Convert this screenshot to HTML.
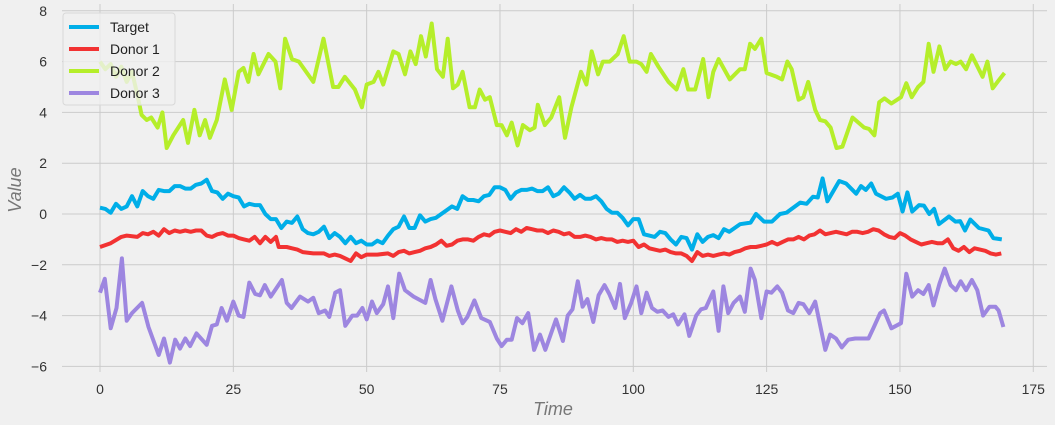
<!DOCTYPE html>
<html><head><meta charset="utf-8"><style>
body{margin:0;background:#f0f0f0;}
svg{display:block;font-family:"Liberation Sans",sans-serif;}
</style></head><body>
<svg id="s" width="1055" height="425" xmlns="http://www.w3.org/2000/svg">
<rect width="1055" height="425" fill="#f0f0f0"/>
<g id="grid" stroke="#cbcbcb" stroke-width="1"></g>
<g id="lbl" font-size="14" fill="#333"></g>
<text x="553" y="415" font-size="18" font-style="italic" fill="#777" text-anchor="middle">Time</text>
<text transform="translate(21,190) rotate(-90)" font-size="18" font-style="italic" fill="#777" text-anchor="middle">Value</text>
<g id="lines" fill="none" stroke-width="4" stroke-linejoin="round"></g>
<g>
<rect x="63" y="13" width="112" height="92" rx="3" fill="#f0f0f0" fill-opacity="0.8" stroke="#d8d8d8"/>
<line x1="69" y1="27" x2="99" y2="27" stroke="#00aee8" stroke-width="4"/>
<line x1="69" y1="49" x2="99" y2="49" stroke="#f23232" stroke-width="4"/>
<line x1="69" y1="71" x2="99" y2="71" stroke="#b5ee2a" stroke-width="4"/>
<line x1="69" y1="93" x2="99" y2="93" stroke="#9d86e0" stroke-width="4"/>
<g font-size="14" fill="#222"><text x="110" y="32">Target</text><text x="110" y="54">Donor 1</text><text x="110" y="76">Donor 2</text><text x="110" y="98">Donor 3</text></g>
</g>
</svg>
<script>
var X=function(u){return 100+u*5.333},Y=function(v){return 214-v*25.4};
var g=document.getElementById('grid'),l=document.getElementById('lbl'),NS="http://www.w3.org/2000/svg";
function el(p,t,a,txt){var e=document.createElementNS(NS,t);for(var k in a)e.setAttribute(k,a[k]);if(txt!=null)e.textContent=txt;p.appendChild(e);}
for(var v=-6;v<=8;v+=2){el(g,'line',{x1:62,x2:1047,y1:Y(v),y2:Y(v)});el(l,'text',{x:47,y:Y(v)+5,'text-anchor':'end'},v<0?'\u2212'+(-v):v);}
for(var u=0;u<=175;u+=25){el(g,'line',{x1:X(u),x2:X(u),y1:4,y2:372});el(l,'text',{x:X(u),y:394,'text-anchor':'middle'},u);}
var T=[0,.25,1,.2,2,.05,3,.4,4,.2,5,.3,6,.7,7,.3,8,.9,9,.7,10,.6,11,.95,12,.9,13,.9,14,1.1,15,1.1,16,1,17,1,18,1.15,19,1.2,20,1.35,21,.9,22,.85,23,.6,24,.8,25,.7,26,.65,27,.3,28,.4,29,.35,30,.35,31,0,32,-.2,33,-.2,34,-.55,35,-.3,36,-.35,37,-.1,38,-.6,39,-.75,40,-.8,41,-.7,42,-.5,43,-.95,44,-.75,45,-.9,46,-1.15,47,-.9,48,-1.15,49,-1.05,50,-1.2,51,-1.2,52,-1.05,53,-1.15,54,-.85,55,-.6,56,-.5,57,-.1,58,-.55,59,-.55,60,-.05,61,-.3,62,-.2,63,-.15,64,0,65,.15,66,.3,67,.2,68,.7,69,.55,70,.55,71,.5,72,.7,73,.75,74,1.05,75,1.05,76,.95,77,.6,78,.85,79,.95,80,.95,81,1,82,.9,83,.9,84,1.05,85,.7,86,.8,87,1.05,88,.85,89,.6,90,.75,91,.6,92,.6,93,.7,94,.5,95,.2,96,.05,97,.05,98,-.15,99,-.45,100,-.2,101,-.2,102,-.8,103,-.85,104,-.9,105,-.7,106,-.75,107,-1,108,-1.2,109,-.9,110,-.95,111,-1.4,112,-.8,113,-1.1,114,-.9,115,-.83,116,-.95,117,-.6,118,-.7,120,-.4,122,-.34,123,0,124.5,-.3,126,-.3,127.5,0,128.7,.05,131.3,.45,132.5,.4,133.7,.68,134.6,.65,135.5,1.4,136.4,.5,138.6,1.3,139.9,1.2,141.8,.8,142.7,1.1,143.6,.95,144.6,1.2,145.5,.8,147.4,.6,148.6,.65,149.6,.8,150.5,.1,151.4,.85,152.3,.1,153.6,.35,154.5,.33,155.5,0,156.4,.2,157.3,-.4,159.2,-.1,160.4,-.3,161.3,-.28,162.2,-.65,163.2,-.22,164.8,-.55,166.6,-.65,167.5,-.95,169.1,-1];
var R=[0,-1.3,2,-1.15,4,-.9,5,-.85,7,-.9,8,-.75,9,-.8,10,-.7,11,-.85,12,-.6,13,-.75,14,-.65,15,-.7,16,-.65,17,-.7,18,-.65,19,-.65,20,-.85,21,-.9,22,-.8,23,-.75,24,-.85,25,-.85,26,-.95,27,-1,28,-1.05,29,-.9,30,-1.15,31,-.9,32,-1.1,33,-.9,33.5,-1.3,35,-1.3,36,-1.35,37,-1.4,38,-1.5,40,-1.55,42,-1.55,43,-1.65,44,-1.6,45,-1.65,46,-1.75,47,-1.85,48,-1.55,49,-1.7,50,-1.6,52,-1.6,54,-1.55,55,-1.65,56,-1.5,57,-1.45,58,-1.55,59,-1.5,60,-1.45,61,-1.35,62,-1.3,63,-1.2,64,-1.05,65,-1.25,66,-1.2,67,-1.05,68,-1,69,-1,70,-1.05,71,-.9,72,-.8,73,-.85,74,-.7,75,-.65,76,-.7,77,-.75,78,-.6,79,-.7,80,-.55,81,-.6,82,-.65,83,-.65,84,-.75,85,-.65,86,-.7,87,-.8,88,-.75,89,-.9,90,-.9,91,-.85,92,-.9,93,-1,94,-.95,95,-1,96,-1,97,-1.1,98,-1.05,99,-1.1,100,-1.05,101,-1.3,102,-1.2,103,-1.35,104,-1.4,105,-1.45,106,-1.4,107,-1.5,108,-1.55,109,-1.55,110,-1.65,111,-1.85,112,-1.5,113,-1.65,114,-1.6,115,-1.65,116,-1.6,117,-1.55,118,-1.6,119,-1.5,120,-1.45,121,-1.35,122,-1.3,123,-1.3,124,-1.25,125,-1.2,126,-1.1,127,-1.2,128,-1.1,129,-1,130,-1,131,-.9,132,-1,133,-.85,134,-.8,135,-.65,136,-.8,137,-.75,138,-.7,139,-.75,140,-.8,141,-.7,142,-.7,143,-.75,144,-.7,145,-.6,146,-.65,147,-.8,148,-.9,149,-.95,150,-.75,151,-.85,152,-1,153,-1.1,154,-1.2,155,-1.15,156,-1.1,157,-1.15,158,-1.15,159,-1,160,-1.35,161,-1.45,162,-1.3,163,-1.5,164,-1.35,165,-1.4,166,-1.45,167,-1.55,168,-1.6,169,-1.55];
var G=[0,6,1,5.7,2,5.9,3,5.4,4,5.8,5,5.2,6,5.6,7,4.7,7.8,3.9,8.75,3.7,9.6,3.8,10.8,3.4,11.7,4,12.5,2.6,13.75,3.1,15.6,3.7,16.5,2.8,17.7,4.1,18.7,3.1,19.7,3.7,20.6,3,21.9,3.7,23.4,5.3,24.7,4.1,26,5.6,26.9,5.75,27.8,5.2,28.8,6.3,29.7,5.5,31.6,6.3,32.9,6,33.8,4.95,34.7,6.9,36,6.1,37.3,6,40,5.2,41.9,6.9,43.7,5,44.7,5,45.9,5.4,47.8,4.9,49.1,4.2,50,5.1,51.3,5.2,52.2,5.6,53.1,5.1,55,6.4,56,6.3,57.2,5.5,58.2,6.4,59.2,5.9,60.2,7,61.1,6.2,62.2,7.5,63.2,5.7,64.3,5.4,65.2,6.9,66.2,4.95,67.1,5.1,68,5.6,69.3,4.2,70.3,4.2,71.2,4.9,72.2,4.5,73.1,4.6,74.4,3.5,75.3,3.5,76.3,3.1,77.2,3.6,78.3,2.7,79.3,3.5,80.6,3.3,81.5,3.4,82.1,4.3,83.4,3.5,84.6,3.8,86.1,4.6,87.2,3,88.4,4.2,90.2,5.6,91.2,5.1,92.2,6.4,93.4,5.5,94.3,6,95.6,6,97.1,6.3,98.2,7,99.3,6,100.6,6,101.5,5.9,102.5,5.6,103.3,6.3,104.7,5.8,106.6,5.2,108.1,4.9,109.4,5.7,110.3,4.9,111.6,4.9,113.1,6.1,114.1,4.6,115,5.6,116,6.1,118.1,5.3,120,5.7,120.9,5.7,121.9,6.7,122.8,6.5,124,6.9,125,5.55,126.9,5.4,127.9,5.3,128.9,6,129.7,5.7,131,4.5,131.9,4.6,132.8,5.2,134.1,4.1,135,3.7,136,3.65,137,3.4,138.1,2.6,139.2,2.65,141.1,3.8,143.3,3.4,144.2,3.35,145.2,3.1,146.1,4.4,147.1,4.55,148.4,4.35,150.2,4.6,151.2,5.15,152.2,4.6,153.4,5,154.4,5.2,155.4,6.7,156.3,5.6,157.4,6.6,158.5,5.7,159.5,6,160.5,5.9,161.4,6,162.4,5.7,163.5,6.25,165.5,5.4,166.4,6,167.4,4.95,168.3,5.2,169.6,5.55];
var P=[0,-3.1,.9,-2.55,2,-4.5,3.1,-3.7,4.1,-1.75,5,-4.2,6,-3.9,7.9,-3.5,9.1,-4.45,11,-5.55,12,-4.9,13.1,-5.85,14.1,-4.95,15,-5.3,16,-4.9,16.9,-5.2,18.1,-4.7,20,-5.15,21,-4.4,21.9,-4.35,22.8,-3.7,23.8,-4.2,25,-3.45,26,-4,26.9,-4.05,28,-2.7,29.1,-3.15,30,-3.2,30.9,-2.8,32,-3.25,34.1,-2.6,35,-3.5,35.9,-3.7,37.5,-3.25,39,-3.45,40,-3.3,41,-3.9,42.2,-3.8,43,-4.05,44.1,-3.1,45,-3,46,-4.4,47.3,-4,48.2,-4,49.2,-3.7,50,-4.15,51,-3.45,51.9,-3.9,53.1,-3.55,54,-2.85,55,-4.1,56.1,-2.35,57.2,-3,58.8,-3.25,61,-3.5,62,-2.6,62.9,-3.35,64.2,-4.2,65.9,-2.85,67.1,-3.8,68,-4.3,68.9,-4.05,70.2,-3.4,71.5,-4.1,73.1,-4.25,74.4,-4.9,75.3,-5.2,76.3,-4.95,77.2,-4.95,78.2,-4.1,79.2,-4.3,80.3,-3.9,81.4,-5.35,82.5,-4.75,83.5,-5.35,85.5,-4.15,86.8,-5,87.7,-4,88.6,-3.75,89.6,-2.65,90.5,-3.65,91.4,-3.35,92.5,-4.25,93.5,-3.2,94.6,-2.8,95.5,-3.15,96.6,-3.7,97.5,-2.75,98.4,-4.1,99.6,-3.5,100.6,-2.85,101.5,-3.9,102.5,-3.1,103.5,-3.7,104.5,-3.85,105.5,-3.8,106.6,-4.05,107.5,-3.95,108.4,-4.35,109.6,-3.95,110.5,-4.8,111.8,-4,112.7,-3.75,113.6,-3.7,115,-3.05,116,-4.6,116.9,-2.85,117.8,-3.9,118.8,-3.5,120,-3.25,120.9,-3.85,122,-2.15,122.8,-2.6,124,-4.1,125,-3.05,125.9,-3.1,127,-2.85,127.9,-3.1,129,-3.8,130,-3.9,131,-3.5,131.9,-3.55,133,-3.9,134.1,-3.45,136,-5.35,136.9,-4.75,138,-4.9,139.1,-5.25,140.3,-4.95,141.6,-4.9,144.1,-4.9,145,-4.5,146.3,-3.9,147,-3.8,148.4,-4.5,150.2,-4.3,151.2,-2.35,152.3,-3.25,153.4,-3,154.4,-3.15,155.4,-2.8,156.3,-3.6,157.4,-2.75,158.4,-2.15,159.5,-2.8,160.5,-3,161.4,-2.65,162.4,-3,163.5,-2.6,164.5,-3,165.6,-4,166.8,-3.65,167.9,-3.65,168.5,-3.8,169.4,-4.45];
var L=document.getElementById('lines');
[[T,'#00aee8'],[R,'#f23232'],[G,'#b5ee2a'],[P,'#9d86e0']].forEach(function(s){var a=s[0],p=[];for(var i=0;i<a.length;i+=2)p.push(X(a[i]).toFixed(1)+','+Y(a[i+1]).toFixed(1));el(L,'polyline',{points:p.join(' '),stroke:s[1]});});
</script>
</body></html>
